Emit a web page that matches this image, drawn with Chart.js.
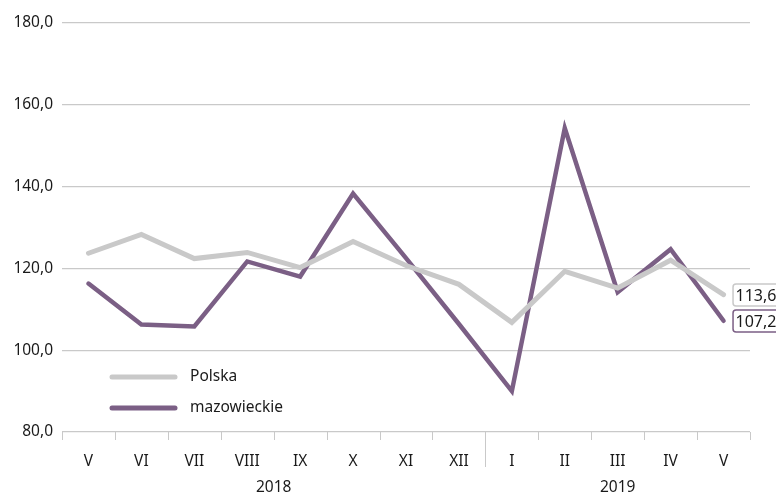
<!DOCTYPE html>
<html>
<head>
<meta charset="utf-8">
<script src="https://cdn.jsdelivr.net/npm/chart.js@4"></script>
<style>
html,body{margin:0;padding:0;background:#fff;}
#wrap{width:776px;height:496px;position:relative;}
</style>
</head>
<body>
<div id="wrap"><canvas id="c" width="776" height="496"></canvas></div>
<script>
const months = ['V','VI','VII','VIII','IX','X','XI','XII','I','II','III','IV','V'];
const years = ['2018','2019'];
const yearSpans = [[0,7],[8,12]];
const polska = [123.7,128.3,122.4,123.9,120.2,126.6,120.7,116.1,106.8,119.3,115.2,122.0,113.6];
const mazowieckie = [116.3,106.3,105.8,121.7,118.0,138.3,122.5,106.4,90.0,154.3,114.2,124.7,107.2];
const seriesNames = ['Polska','mazowieckie'];
const yTicks = [80,100,120,140,160,180];

const GRAY = '#c9c9c9';
const PURPLE = '#7b5f85';
const FONT = '"Noto Sans", "Open Sans", sans-serif';
const fmt = v => v.toFixed(1).replace('.', ',');

const extras = {
  id: 'extras',
  afterDraw(chart) {
    const ctx = chart.ctx;
    const x = chart.scales.x, y = chart.scales.y;
    const ca = chart.chartArea;
    ctx.save();
    // category separators/ticks
    ctx.strokeStyle = GRAY;
    ctx.lineWidth = 1;
    const n = months.length;
    const step = (ca.right - ca.left) / n;
    for (let i = 0; i <= n; i++) {
      const px = Math.round(ca.left + i * step) + 0.5;
      const long = (i === 8);
      ctx.beginPath();
      ctx.moveTo(px, ca.bottom);
      ctx.lineTo(px, ca.bottom + (long ? 35 : 8));
      ctx.stroke();
    }
    // year labels
    ctx.fillStyle = '#1a1a1a';
    ctx.font = '15.5px ' + FONT;
    ctx.textAlign = 'center';
    ctx.textBaseline = 'middle';
    yearSpans.forEach((s, i) => {
      const cx = (x.getPixelForValue(s[0]) + x.getPixelForValue(s[1])) / 2;
      ctx.fillText(years[i], cx, ca.bottom + 56);
    });
    // legend
    const leg = [[GRAY, 377], [PURPLE, 408]];
    leg.forEach((l, i) => {
      ctx.strokeStyle = l[0];
      ctx.lineWidth = 5;
      ctx.lineCap = 'round';
      ctx.beginPath();
      ctx.moveTo(112, l[1]);
      ctx.lineTo(175, l[1]);
      ctx.stroke();
      ctx.fillStyle = '#1a1a1a';
      ctx.textAlign = 'left';
      ctx.font = '15.5px ' + FONT;
      ctx.fillText(seriesNames[i], 190, l[1]);
    });
    // end labels
    const last = n - 1;
    const ends = [[polska[last], GRAY, 295], [mazowieckie[last], PURPLE, 321]];
    ends.forEach(e => {
      const bx = x.getPixelForValue(last) + 9;
      const by = e[2];
      ctx.fillStyle = '#fff';
      ctx.strokeStyle = e[1];
      ctx.lineWidth = 1.5;
      ctx.beginPath();
      if (ctx.roundRect) ctx.roundRect(bx + 0.5, by - 11, 70, 22, 3); else ctx.rect(bx + 0.5, by - 11, 70, 22);
      ctx.fill();
      ctx.stroke();
      ctx.fillStyle = '#1a1a1a';
      ctx.textAlign = 'left';
      ctx.font = '16px ' + FONT;
      ctx.fillText(fmt(e[0]), bx + 3, by + 1);
    });
    ctx.restore();
  }
};

new Chart(document.getElementById('c'), {
  type: 'line',
  data: {
    labels: months,
    datasets: [
      { label: seriesNames[0], data: polska, borderColor: GRAY, borderWidth: 5, pointRadius: 0, tension: 0, borderJoinStyle: 'miter', borderCapStyle: 'round' },
      { label: seriesNames[1], data: mazowieckie, borderColor: PURPLE, borderWidth: 4.5, pointRadius: 0, tension: 0, borderJoinStyle: 'miter', borderCapStyle: 'round' }
    ]
  },
  options: {
    responsive: false,
    animation: false,
    devicePixelRatio: 1,
    layout: { padding: { top: 23, right: 26, left: 0, bottom: 0 } },
    plugins: { legend: { display: false }, tooltip: { enabled: false }, title: { display: false } },
    scales: {
      x: {
        type: 'category',
        offset: true,
        grid: { display: false, drawTicks: false },
        border: { display: false },
        ticks: { color: '#1a1a1a', font: { family: FONT, size: 15.5 }, padding: 20, maxRotation: 0, autoSkip: false },
        afterFit(s) { s.height = 64; }
      },
      y: {
        min: 80, max: 180,
        afterBuildTicks(s) { s.ticks = yTicks.map(v => ({ value: v })); },
        grid: { color: GRAY, lineWidth: 1.2, drawTicks: false },
        border: { display: false },
        ticks: { color: '#1a1a1a', font: { family: FONT, size: 15.5 }, padding: 9, callback: v => fmt(v) },
        afterFit(s) { s.width = 62; }
      }
    }
  },
  plugins: [extras]
});
</script>
</body>
</html>
